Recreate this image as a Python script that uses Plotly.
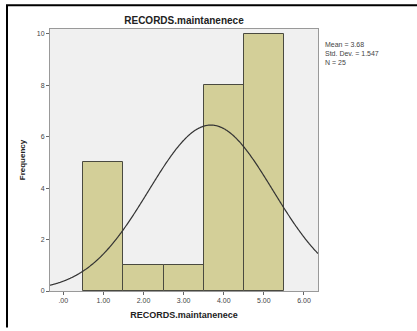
import numpy as np
import plotly.graph_objects as go

# Data
bin_centers = [1, 2, 3, 4, 5]
frequencies = [5, 1, 1, 8, 10]
x_tick_vals = [0, 1, 2, 3, 4, 5, 6]
x_tick_text = [".00", "1.00", "2.00", "3.00", "4.00", "5.00", "6.00"]
y_tick_vals = [0, 2, 4, 6, 8, 10]
mean = 3.68
std_dev = 1.547
n = 25
bin_width = 1.0
var_name = "RECORDS.maintanenece"

x_range = [-0.33, 6.35]
y_range = [0, 10.18]

xs = np.linspace(x_range[0], x_range[1], 400)
ys = n * bin_width * np.exp(-0.5 * ((xs - mean) / std_dev) ** 2) / (std_dev * np.sqrt(2 * np.pi))

fig = go.Figure()
fig.add_trace(go.Bar(
    x=bin_centers, y=frequencies, width=bin_width,
    marker=dict(color="#D3CF98", line=dict(color="#4a4a40", width=1)),
    hoverinfo="skip", showlegend=False,
))
fig.add_trace(go.Scatter(
    x=xs, y=ys, mode="lines",
    line=dict(color="#333333", width=1.2, shape="spline", simplify=False),
    hoverinfo="skip", showlegend=False,
))

font = "Liberation Sans, Arial, sans-serif"
PW = 417 - 50 - 99
PH = 331 - 29 - 37
bx0 = -43 / PW
bx1 = (417 - 50) / PW
by0 = -37 / PH
by1 = 1 + 24 / PH
fig.update_layout(
    width=417, height=331,
    margin=dict(l=50, r=99, t=29, b=37),
    paper_bgcolor="white", plot_bgcolor="#F0F0F0",
    bargap=0,
    font=dict(family=font, size=7, color="#444444"),
    title=dict(text="<b>" + var_name + "</b>", x=184 / 417, xanchor="center",
               y=1 - 20 / 331, yanchor="middle",
               font=dict(family=font, size=10, color="#222222")),
    xaxis=dict(range=x_range, tickvals=x_tick_vals, ticktext=x_tick_text,
               ticks="outside", ticklen=3, tickcolor="#666666",
               showgrid=False, zeroline=False, showline=True, linecolor="#999999",
               linewidth=1, mirror=True,
               title=dict(text="<b>" + var_name + "</b>", standoff=8,
                          font=dict(family=font, size=9, color="#222222"))),
    yaxis=dict(range=y_range, tickvals=y_tick_vals,
               ticks="outside", ticklen=3, tickcolor="#666666",
               showgrid=False, zeroline=False, showline=True, linecolor="#999999",
               linewidth=1, mirror=True,
               title=dict(text="<b>Frequency</b>", standoff=10,
                          font=dict(family=font, size=8, color="#222222"))),
    shapes=[
        dict(type="path", xref="paper", yref="paper",
             path=f"M {bx0},{by0} L {bx0},{by1} L {bx1},{by1}",
             line=dict(color="black", width=2), fillcolor="rgba(0,0,0,0)",
             layer="above"),
    ],
    annotations=[
        dict(text="Mean = 3.68<br>Std. Dev. = 1.547<br>N = 25",
             xref="paper", yref="paper", x=1 + 5 / PW, y=1 - 10 / PH,
             xanchor="left", yanchor="top", align="left", showarrow=False,
             font=dict(family=font, size=7, color="#444444")),
    ],
)

fig.write_html("out.html", config={"displayModeBar": False},
               post_script="document.body.style.margin='0';document.body.style.overflow='hidden';")
